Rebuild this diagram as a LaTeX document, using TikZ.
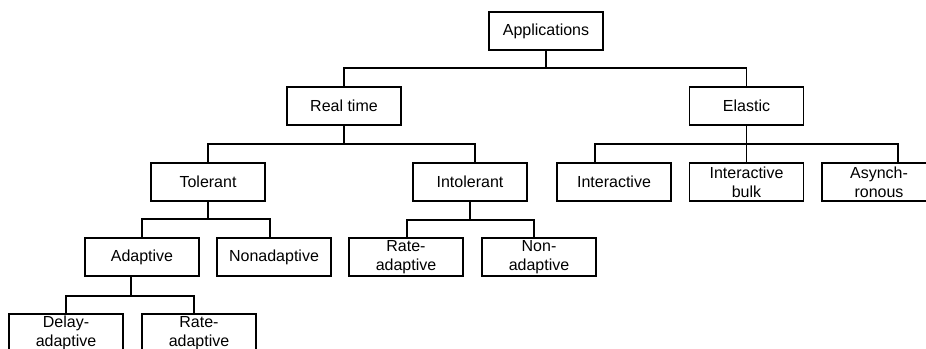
\documentclass[tikz,border=0pt]{standalone}
\usepackage{fontspec}
\setmainfont{Liberation Sans}
\usetikzlibrary{calc}
\begin{document}
\begin{tikzpicture}[x=0.75pt,y=-0.75pt,
  box/.style={draw,line width=1.4pt,minimum width=85.5pt,minimum height=28.5pt,inner sep=0pt,align=center,font=\fontsize{12}{14.3}\selectfont},
  link/.style={line width=1.4pt}]
\useasboundingbox (0,0) rectangle (926,349);
\clip (0,0) rectangle (926,349);
% nodes
\node[box] (app) at (546,31) {Applications};
\node[box] (rt) at (344,106) {Real time};
\node[box] (el) at (746.5,106) {Elastic};
\node[box] (tol) at (208,182) {Tolerant};
\node[box] (intol) at (470,182) {Intolerant};
\node[box] (inter) at (614,182) {Interactive};
\node[box] (bulk) at (746.5,182) {Interactive\\bulk};
\node[box] (async) at (879,182) {Asynch-\\ronous};
\node[box] (adap) at (142,257) {Adaptive};
\node[box] (nonad) at (274,257) {Nonadaptive};
\node[box] (rate1) at (406,257) {Rate-\\adaptive};
\node[box] (nonad2) at (539,257) {Non-\\adaptive};
\node[box] (delay) at (66,333) {Delay-\\adaptive};
\node[box] (rate2) at (199,333) {Rate-\\adaptive};
% junctions
\coordinate (j1) at (546,68);
\coordinate (j2) at (344,144);
\coordinate (j3) at (746.5,144);
\coordinate (j4) at (208,219);
\coordinate (j5) at (470,220);
\coordinate (j6) at (131,296);
% connectors
\draw[link] (app.south) -- (j1);
\draw[link] (rt.north) |- (j1) -| (el.north);
\draw[link] (rt.south) -- (j2);
\draw[link] (tol.north) |- (j2) -| ($(intol.north)+(5,0)$);
\draw[link] (el.south) -- (j3);
\draw[link] ($(inter.north)+(-19,0)$) |- (j3) -| ($(async.north)+(19,0)$);
\draw[link] (bulk.north) -- (j3);
\draw[link] (tol.south) -- (j4);
\draw[link] (adap.north) |- (j4) -| ($(nonad.north)+(-4,0)$);
\draw[link] (intol.south) -- (j5);
\draw[link] ($(rate1.north)+(1,0)$) |- (j5) -| ($(nonad2.north)+(-5,0)$);
\draw[link] ($(adap.south)+(-11,0)$) -- (j6);
\draw[link] (delay.north) |- (j6) -| ($(rate2.north)+(-5,0)$);
\end{tikzpicture}
\end{document}
